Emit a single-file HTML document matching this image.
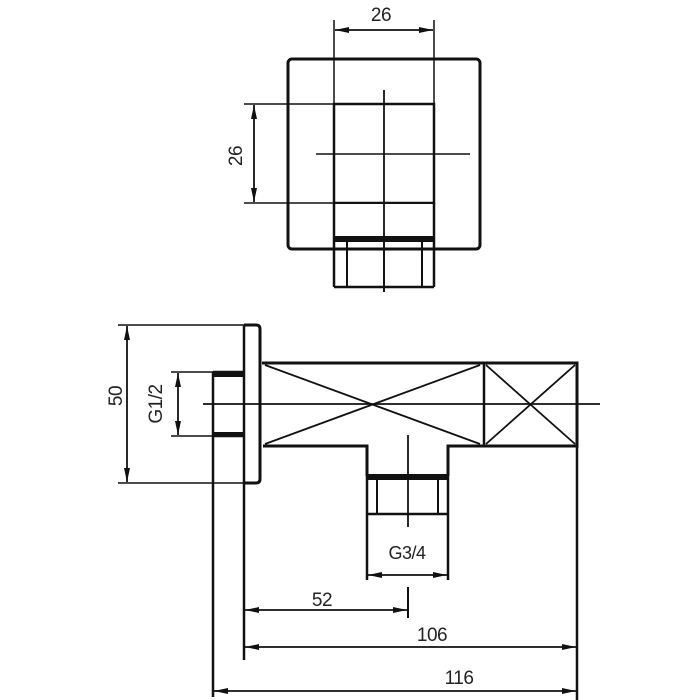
<!DOCTYPE html>
<html><head><meta charset="utf-8"><style>
html,body{margin:0;padding:0;background:#fff;}
svg{display:block;}
text{font-family:"Liberation Sans",sans-serif;font-size:19px;fill:#222;letter-spacing:-0.5px;}
</style></head><body>
<svg width="700" height="700" viewBox="0 0 700 700">
<defs>
<marker id="a" viewBox="0 0 14 6" refX="14" refY="3" markerWidth="14" markerHeight="6" orient="auto-start-reverse" markerUnits="userSpaceOnUse"><path d="M0,0 L14,3 L0,6 z" fill="#111"/></marker>
</defs>
<g stroke="#111" fill="none">
<!-- TOP VIEW -->
<rect x="288" y="59" width="192" height="190" rx="4" stroke-width="3"/>
<rect x="334" y="104" width="100" height="99" stroke-width="2.5" fill="#fff"/>
<line x1="334" y1="20" x2="334" y2="104" stroke-width="1.5"/>
<line x1="434" y1="20" x2="434" y2="104" stroke-width="1.5"/>
<line x1="335" y1="30" x2="433" y2="30" stroke-width="1.8" marker-start="url(#a)" marker-end="url(#a)"/>
<line x1="244" y1="104" x2="334" y2="104" stroke-width="1.5"/>
<line x1="244" y1="203" x2="334" y2="203" stroke-width="1.5"/>
<line x1="254" y1="105" x2="254" y2="202" stroke-width="1.8" marker-start="url(#a)" marker-end="url(#a)"/>
<line x1="384" y1="90" x2="384" y2="292" stroke-width="1.8"/>
<line x1="316" y1="154" x2="470" y2="154" stroke-width="1.5"/>
<rect x="334" y="204" width="100" height="33" fill="#fff" stroke="none"/>
<line x1="334" y1="203" x2="334" y2="287" stroke-width="2.5"/>
<line x1="434" y1="203" x2="434" y2="287" stroke-width="2.5"/>
<line x1="384" y1="203" x2="384" y2="292" stroke-width="1.8"/>
<rect x="334" y="236" width="100" height="6" fill="#111" stroke="none"/>
<line x1="334" y1="287" x2="434" y2="287" stroke-width="2.5"/>
<line x1="347" y1="242" x2="347" y2="287" stroke-width="2"/>
<line x1="422" y1="242" x2="422" y2="287" stroke-width="2"/>
<!-- SIDE VIEW -->
<path d="M244,325 H256 Q260,325 260,329 V479 Q260,483 256,483 H244" stroke-width="3"/>
<line x1="244" y1="325" x2="244" y2="660" stroke-width="2.5"/>
<line x1="213" y1="372" x2="213" y2="697" stroke-width="2.5"/>
<line x1="213" y1="372" x2="244" y2="372" stroke-width="2.5"/>
<line x1="213" y1="436" x2="244" y2="436" stroke-width="2.5"/>
<rect x="213" y="372" width="31" height="5" fill="#111" stroke="none"/>
<rect x="213" y="432" width="31" height="5" fill="#111" stroke="none"/>
<line x1="118" y1="325" x2="244" y2="325" stroke-width="1.5"/>
<line x1="118" y1="483" x2="244" y2="483" stroke-width="1.5"/>
<line x1="127" y1="326" x2="127" y2="482" stroke-width="1.8" marker-start="url(#a)" marker-end="url(#a)"/>
<line x1="171" y1="372" x2="213" y2="372" stroke-width="1.5"/>
<line x1="171" y1="436" x2="213" y2="436" stroke-width="1.5"/>
<line x1="178" y1="373" x2="178" y2="435" stroke-width="1.8" marker-start="url(#a)" marker-end="url(#a)"/>
<!-- body -->
<path d="M262,363 H577 V446 H448 V476 M367,476 V446 H263" stroke-width="3"/>
<line x1="484" y1="363" x2="484" y2="446" stroke-width="2.5"/>
<line x1="265" y1="365" x2="480" y2="444" stroke-width="1.8"/>
<line x1="265" y1="444" x2="480" y2="365" stroke-width="1.8"/>
<line x1="486" y1="365" x2="575" y2="444" stroke-width="1.8"/>
<line x1="486" y1="444" x2="575" y2="365" stroke-width="1.8"/>
<line x1="203" y1="404" x2="600" y2="404" stroke-width="1.8"/>
<!-- bottom nut -->
<rect x="367" y="474" width="81" height="6" fill="#111" stroke="none"/>
<line x1="367" y1="446" x2="367" y2="580" stroke-width="2.5"/>
<line x1="448" y1="446" x2="448" y2="580" stroke-width="2.5"/>
<line x1="367" y1="514" x2="448" y2="514" stroke-width="2.5"/>
<line x1="377" y1="480" x2="377" y2="514" stroke-width="2"/>
<line x1="438" y1="480" x2="438" y2="514" stroke-width="2"/>
<line x1="408" y1="435" x2="408" y2="527" stroke-width="1.8"/>
<line x1="368" y1="575" x2="447" y2="575" stroke-width="1.8" marker-start="url(#a)" marker-end="url(#a)"/>
<line x1="408" y1="587" x2="408" y2="618" stroke-width="2"/>
<line x1="245" y1="610" x2="407" y2="610" stroke-width="1.8" marker-start="url(#a)" marker-end="url(#a)"/>
<line x1="577" y1="446" x2="577" y2="700" stroke-width="2.5"/>
<line x1="245" y1="647" x2="576" y2="647" stroke-width="1.8" marker-start="url(#a)" marker-end="url(#a)"/>
<line x1="214" y1="691" x2="576" y2="691" stroke-width="1.8" marker-start="url(#a)" marker-end="url(#a)"/>
</g>
<text x="381" y="21" text-anchor="middle">26</text>
<text transform="translate(242,156) rotate(-90)" text-anchor="middle">26</text>
<text transform="translate(122,396) rotate(-90)" text-anchor="middle">50</text>
<text transform="translate(162,404) rotate(-90)" text-anchor="middle">G1/2</text>
<text x="407" y="559" text-anchor="middle" style="font-size:18px">G3/4</text>
<text x="322" y="606" text-anchor="middle">52</text>
<text x="432" y="641" text-anchor="middle">106</text>
<text x="459" y="684" text-anchor="middle">116</text>
</svg>
</body></html>
